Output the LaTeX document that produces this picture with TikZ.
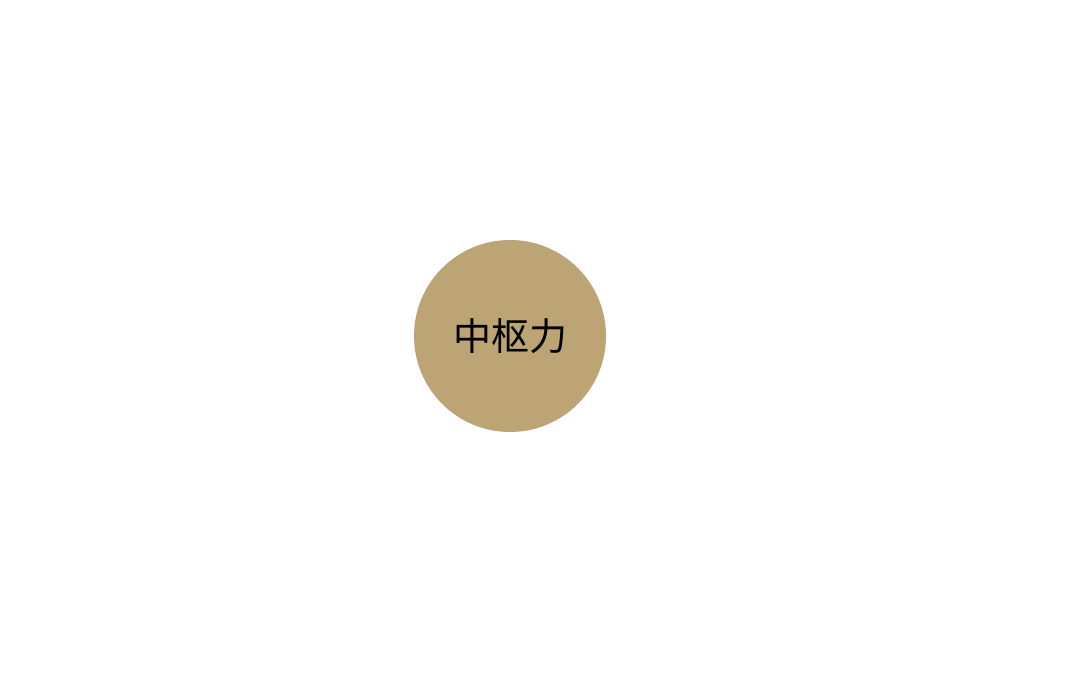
\documentclass[tikz,border=0pt]{standalone}
\usepackage{fontspec}
\newfontfamily\cjk{Noto Sans CJK SC}
\definecolor{gold}{HTML}{BDA475}
\begin{document}
\begin{tikzpicture}[x=1pt,y=1pt]
\useasboundingbox[fill=white] (0,0) rectangle (1066,679);
\node[circle,fill=gold,minimum size=192pt,inner sep=0pt,font=\cjk\fontsize{38}{40}\selectfont] (c) at (510,343) {中枢力};
\end{tikzpicture}
\end{document}
